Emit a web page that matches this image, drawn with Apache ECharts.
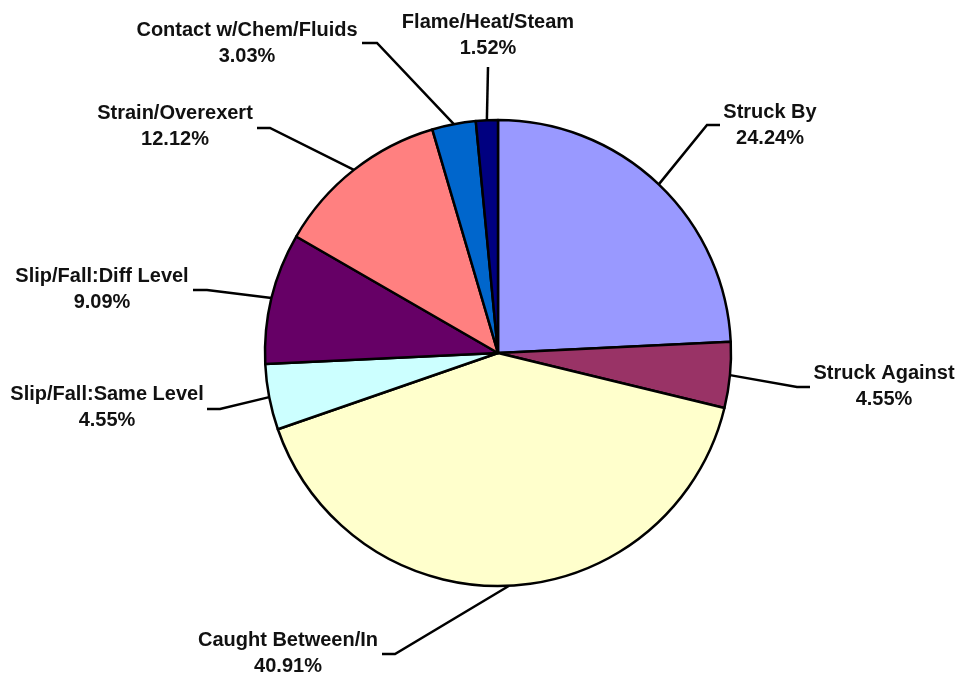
<!DOCTYPE html>
<html>
<head>
<meta charset="utf-8">
<script src="https://cdn.jsdelivr.net/npm/echarts@6/dist/echarts.min.js"></script>
<style>html,body{margin:0;padding:0;background:#fff;}#chart{width:959px;height:677px;}</style>
</head>
<body>
<div id="chart"></div>
<script>
// Data
var categories = ["Struck By", "Struck Against", "Caught Between/In", "Slip/Fall:Same Level",
  "Slip/Fall:Diff Level", "Strain/Overexert", "Contact w/Chem/Fluids", "Flame/Heat/Steam"];
var percents = [24.24, 4.55, 40.91, 4.55, 9.09, 12.12, 3.03, 1.52];
var colors = ["#9999FF", "#993366", "#FFFFCC", "#CCFFFF", "#660066", "#FF8080", "#0066CC", "#000080"];

// Layout (label placement, hand positioned like the original)
var CX = 498, CY = 353, R = 233;
var labelPos = [
  {x: 770, y: 125, elbow: [707, 125], end: [720, 125]},
  {x: 884, y: 386, elbow: [797, 387], end: [810, 387]},
  {x: 288, y: 653, elbow: [395, 654], end: [382, 654]},
  {x: 107, y: 407, elbow: [220, 409], end: [207, 409]},
  {x: 102, y: 289, elbow: [207, 290], end: [193, 290]},
  {x: 175, y: 126, elbow: [270, 128], end: [257, 128]},
  {x: 247, y: 43,  elbow: [377, 43],  end: [362, 43]},
  {x: 488, y: 35,  elbow: [488, 67],  end: [488, 67]}
];

var total = percents.reduce(function(a, b){ return a + b; }, 0);
var cum = [];
(function(){ var s = 0; percents.forEach(function(v){ cum.push(s + v / 2); s += v; }); })();

function edgePoint(i) {
  var ang = cum[i] / total * 2 * Math.PI; // clockwise from top
  return [CX + R * Math.sin(ang), CY - R * Math.cos(ang)];
}

var chart = echarts.init(document.getElementById('chart'), null, {renderer: 'canvas'});
chart.setOption({
  animation: false,
  backgroundColor: '#ffffff',
  series: [{
    type: 'pie',
    center: [CX, CY],
    radius: [0, R],
    startAngle: 90,
    clockwise: true,
    avoidLabelOverlap: false,
    silent: true,
    itemStyle: {borderColor: '#000', borderWidth: 2.5},
    label: {
      show: true,
      formatter: function(p){ return p.name + '\n' + p.value.toFixed(2) + '%'; },
      fontFamily: 'Liberation Sans, Arial, sans-serif',
      fontWeight: 'bold',
      fontSize: 20,
      lineHeight: 26,
      color: '#111',
      align: 'center'
    },
    labelLine: {show: true, lineStyle: {color: '#000', width: 2.5}, smooth: false},
    labelLayout: function(params) {
      var i = params.dataIndex;
      var lp = labelPos[i];
      return {
        x: lp.x,
        y: lp.y,
        align: 'center',
        verticalAlign: 'middle',
        labelLinePoints: [edgePoint(i), lp.elbow, lp.end]
      };
    },
    data: categories.map(function(c, i){
      return {name: c, value: percents[i], itemStyle: {color: colors[i]}};
    })
  }]
});
</script>
</body>
</html>
